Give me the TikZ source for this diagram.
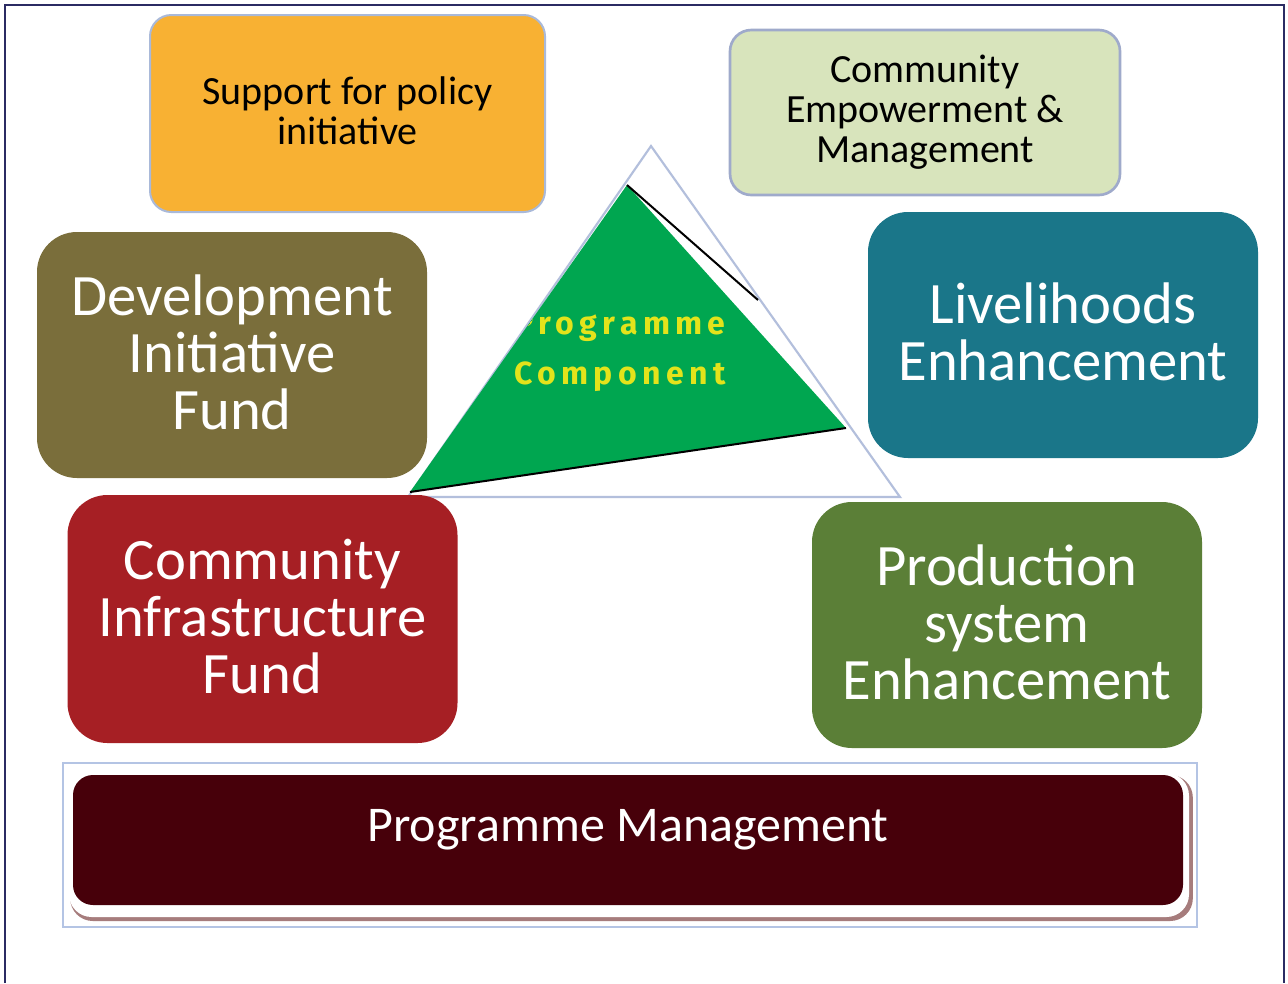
\documentclass[tikz,border=0pt]{standalone}
\usepackage{fontspec}
\setmainfont{Carlito}
\newfontfamily\compfont{Fira Sans}[LetterSpace=17]
\usetikzlibrary{calc}

\definecolor{framec}{HTML}{2B2B63}
\definecolor{orangec}{HTML}{F8B133}
\definecolor{orangeedge}{HTML}{A9B9D9}
\definecolor{palegreen}{HTML}{D8E4BC}
\definecolor{paleedge}{HTML}{9FAACB}
\definecolor{olivec}{HTML}{7A6E3B}
\definecolor{tealc}{HTML}{1A7689}
\definecolor{redc}{HTML}{A61F24}
\definecolor{leafc}{HTML}{5B7F37}
\definecolor{maroonc}{HTML}{47000A}
\definecolor{shadowc}{HTML}{A67C7C}
\definecolor{trigreen}{HTML}{00A650}
\definecolor{yellowc}{HTML}{E3E31B}
\definecolor{outlinec}{HTML}{B3BFDC}
\definecolor{panelc}{HTML}{B4C4E4}

\tikzset{
  smallbox/.style={rounded corners=16pt, align=center, text=black,
    minimum width=#1, minimum height=123.75pt, inner sep=0pt,
    font=\fontsize{30}{30}\selectfont},
  bigbox/.style={rounded corners=30pt, align=center, text=white,
    minimum width=292.5pt, minimum height=184.5pt, inner sep=0pt,
    text depth=4.5pt, font=\fontsize{44}{42.75}\selectfont},
  comptext/.style={align=center, text=yellowc, inner sep=0pt,
    font=\compfont\bfseries\fontsize{24}{37.5}\selectfont},
}

\begin{document}
\begin{tikzpicture}[x=0.75pt,y=-0.75pt]
\useasboundingbox (0,0) rectangle (1288,983);
\fill[white] (0,0) rectangle (1288,983);

% outer frame
\draw[framec, line width=2.2pt] (5,983) -- (5,5) -- (1284,5) -- (1284,983);

% triangle outline and the green programme triangle
\coordinate (oa) at (651,146);
\coordinate (ob) at (408,497);
\coordinate (oc) at (900,497);
\draw[outlinec, line width=1.6pt] (oa) -- (oc) -- (ob) -- cycle;

\coordinate (ga) at (627,185);
\coordinate (gb) at (410,492);
\coordinate (gc) at (846,428);
\coordinate (gk) at (758,300);
\fill[trigreen] (ga) -- (gc) -- (gb) -- cycle;
\draw[black, line width=1.5pt] (ga) -- (gk);
\draw[black, line width=1.5pt] (gb) -- (gc);
\begin{scope}
  \clip (ga) -- (gc) -- (gb) -- cycle;
  \node[comptext] (comp) at (620,352) {Programme\\Component};
\end{scope}

% top boxes
\node[smallbox=296.25pt, minimum height=147.75pt, fill=orangec,
      draw=orangeedge, line width=1.5pt, text depth=4.5pt] (policy) at (347.5,113.5)
  {Support for policy\\initiative};
\node[smallbox=292.5pt, fill=palegreen, draw=paleedge, line width=2pt]
  (empower) at (925,112.5) {Community\\Empowerment \&\\Management};

% component boxes
\node[bigbox, fill=olivec] (dif) at (232,355) {Development\\Initiative\\Fund};
\node[bigbox, fill=tealc] (live) at (1063,335) {Livelihoods\\Enhancement};
\node[bigbox, fill=redc, minimum height=186pt] (cif) at (262.5,619)
  {Community\\Infrastructure\\Fund};
\node[bigbox, fill=leafc] (prod) at (1007,625) {Production\\system\\Enhancement};

% programme management bar
\node[draw=panelc, line width=1.5pt, fill=white, minimum width=850.5pt,
      minimum height=123pt, inner sep=0pt] (panel) at (630,845) {};
\node[fill=shadowc, rounded corners=17pt, minimum width=842pt,
      minimum height=109.5pt, inner sep=0pt] (pmshadow) at (631.5,848) {};
\node[fill=white, rounded corners=17pt, minimum width=840pt,
      minimum height=108pt, inner sep=0pt] (pmlight) at (629,845) {};
\node[fill=maroonc, rounded corners=15pt, minimum width=832.5pt,
      minimum height=97.5pt, inner sep=0pt] (pm) at (628,840) {};
\node[text=white, inner sep=0pt, font=\fontsize{37.5}{37.5}\selectfont]
  (pmtext) at (628,830) {Programme Management};
\end{tikzpicture}
\end{document}
